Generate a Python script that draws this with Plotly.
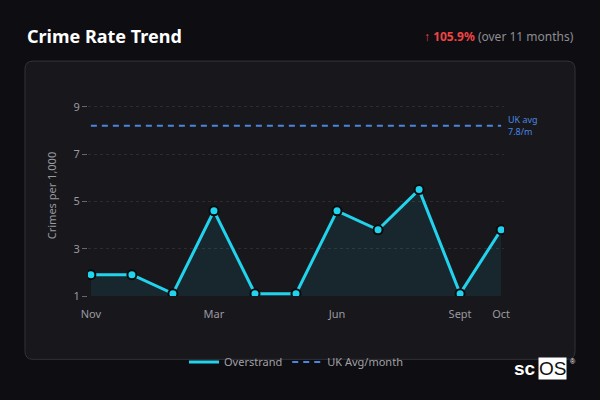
import plotly.graph_objects as go

# data
months = ["Nov", "Dec", "Jan", "Mar", "Apr", "May", "Jun", "Jul", "Aug", "Sept", "Oct"]
crime_rate = [1.9, 1.9, 1.1, 4.6, 1.1, 1.1, 4.6, 3.8, 5.5, 1.1, 3.8]
uk_avg = [8.2] * len(months)
tick_labels = ["Nov", "Mar", "Jun", "Sept", "Oct"]
y_ticks = [1, 3, 5, 7, 9]

W, H = 600, 400
L, R, T, B = 88, 96, 95, 103.5
pw, ph = W - L - R, H - T - B


def px_x(v):
    return (v - L) / pw


def px_y(v):
    return (H - B - v) / ph


def rounded_rect(x0, y0, x1, y1, r):
    rx, ry = r / pw, r / ph
    a, b, c, d = px_x(x0), px_y(y1), px_x(x1), px_y(y0)
    return (f"M{a+rx},{b} L{c-rx},{b} Q{c},{b} {c},{b+ry} L{c},{d-ry} Q{c},{d} {c-rx},{d} "
            f"L{a+rx},{d} Q{a},{d} {a},{d-ry} L{a},{b+ry} Q{a},{b} {a+rx},{b} Z")


cyan = "#22d3ee"
blue = "#4a86e0"
grey = "#9a9aa0"

fig = go.Figure()
fig.add_trace(go.Scatter(
    x=months, y=crime_rate, name="Overstrand", mode="lines+markers", showlegend=False,
    line=dict(color=cyan, width=3),
    marker=dict(size=9, color=cyan, line=dict(color="#0b0b0e", width=2)),
    fill="tozeroy", fillcolor="rgba(34,211,238,0.09)",
))
# legend entry with line only
fig.add_trace(go.Scatter(
    x=[None], y=[None], name="Overstrand", mode="lines",
    line=dict(color=cyan, width=3),
))
fig.add_trace(go.Scatter(
    x=months, y=uk_avg, name="UK Avg/month", mode="lines",
    line=dict(color=blue, width=2, dash="6px,5px"),
))

fig.update_layout(
    width=W, height=H,
    margin=dict(l=L, r=R, t=T, b=B),
    paper_bgcolor="#0e0d11",
    plot_bgcolor="rgba(0,0,0,0)",
    font=dict(family="Noto Sans", color=grey, size=11),
    showlegend=True,
    legend=dict(orientation="h", x=0.5, xanchor="center", yref="container", y=1 - 362 / H,
                yanchor="middle", font=dict(size=11, color="#a0a0a6"), bgcolor="rgba(0,0,0,0)"),
    shapes=[dict(type="path", xref="paper", yref="paper", layer="below",
                 path=rounded_rect(25, 61, 575, 360, 8),
                 fillcolor="#18171b", line=dict(color="#333238", width=1))],
)
fig.update_xaxes(
    range=[-0.07, 10.07], tickmode="array", tickvals=tick_labels, ticktext=tick_labels,
    showgrid=False, zeroline=False, showline=False,
    ticks="outside", ticklen=8, tickcolor="rgba(0,0,0,0)",
    tickfont=dict(size=11, color=grey),
)
fig.update_yaxes(
    range=[1, 9.5], tickvals=y_ticks, showgrid=True, gridcolor="#2c2c31", griddash="dot",
    zeroline=False, showline=False, ticks="outside", ticklen=5, tickcolor="#66666b",
    tickfont=dict(size=11, color=grey),
    title=dict(text="Crimes per 1,000", font=dict(size=11, color=grey), standoff=14),
)

fig.add_annotation(x=px_x(25), y=px_y(36), xref="paper", yref="paper", xanchor="left", yanchor="middle",
                   text="<b>Crime Rate Trend</b>", showarrow=False,
                   font=dict(size=18, color="#ffffff", family="Noto Sans"))
fig.add_annotation(x=px_x(576), y=px_y(36), xref="paper", yref="paper", xanchor="right", yanchor="middle",
                   text="<span style='color:#ef4444'>↑ <b>105.9%</b></span> (over 11 months)",
                   showarrow=False, font=dict(size=12, color="#8d8d93", family="Noto Sans"))
fig.add_annotation(x=px_x(506), y=px_y(126), xref="paper", yref="paper", xanchor="left", yanchor="middle",
                   text="UK avg<br>7.8/m", align="left", showarrow=False,
                   font=dict(size=9, color=blue, family="Noto Sans"))
fig.add_annotation(x=px_x(538), y=px_y(369), xref="paper", yref="paper", xanchor="right", yanchor="middle",
                   text="<b>sc</b>", showarrow=False,
                   font=dict(size=19, color="#ffffff", family="Liberation Sans"))
fig.add_annotation(x=px_x(538), y=px_y(369), xref="paper", yref="paper", xanchor="left", yanchor="middle",
                   text="OS", showarrow=False, bgcolor="#ffffff", borderpad=0,
                   font=dict(size=19, color="#111111", family="Liberation Sans"))
fig.add_annotation(x=px_x(568), y=px_y(362), xref="paper", yref="paper", xanchor="left", yanchor="middle",
                   text="®", showarrow=False, font=dict(size=7, color="#ffffff", family="Liberation Sans"))

fig.write_html("out.html", config={"displayModeBar": False},
               post_script="document.body.style.margin='0';document.body.style.background='#0e0d11';")
